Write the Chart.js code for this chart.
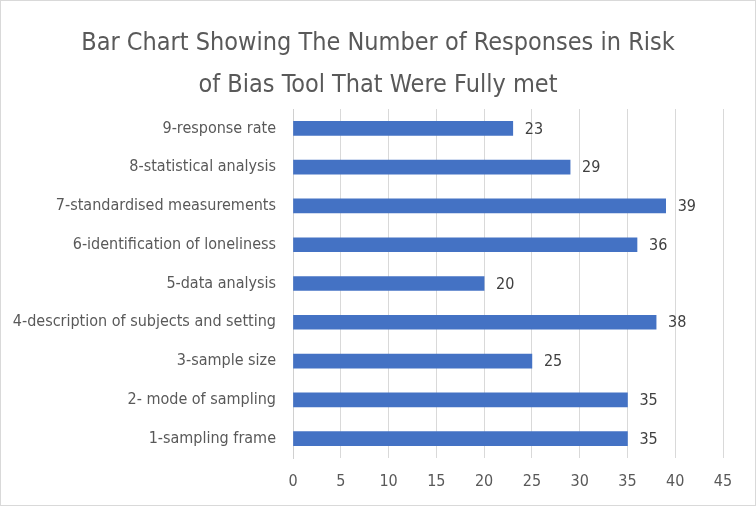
<!DOCTYPE html>
<html>
<head>
<meta charset="utf-8">
<script src="https://cdn.jsdelivr.net/npm/chart.js@4"></script>
<style>
  html, body { margin: 0; padding: 0; background: #fff; }
  #wrap { width: 754px; height: 504px; border: 1px solid #d9d9d9; }
</style>
</head>
<body>
<div id="wrap"><canvas id="chart" width="754" height="504"></canvas></div>
<script>
// data (top to bottom as shown)
const categories = [
  "9-response rate",
  "8-statistical analysis",
  "7-standardised measurements",
  "6-identification of loneliness",
  "5-data analysis",
  "4-description of subjects and setting",
  "3-sample size",
  "2- mode of sampling",
  "1-sampling frame"
];
const values = [23, 29, 39, 36, 20, 38, 25, 35, 35];
const xTicks = [0, 5, 10, 15, 20, 25, 30, 35, 40, 45];
const titleLines = ["Bar Chart Showing The Number of Responses in Risk", "of Bias Tool That Were Fully met"];

const FONT = "'Liberation Sans Narrow', 'Arial Narrow', 'DejaVu Sans Condensed', sans-serif";

// title centred on the whole canvas (built-in title centres on padded box)
const centredTitle = {
  id: "centredTitle",
  afterDraw: (chart) => {
    const { ctx, width } = chart;
    ctx.save();
    ctx.font = "25px " + FONT;
    ctx.fillStyle = "#595959";
    ctx.textAlign = "center";
    ctx.textBaseline = "middle";
    titleLines.forEach((line, i) => {
      ctx.fillText(line, width / 2, 42 + i * 42);
    });
    ctx.restore();
  }
};

// value labels at the bar ends
const valueLabels = {
  id: "valueLabels",
  afterDatasetsDraw: (chart) => {
    const { ctx } = chart;
    const meta = chart.getDatasetMeta(0);
    ctx.save();
    ctx.font = "16px " + FONT;
    ctx.fillStyle = "#404040";
    ctx.textAlign = "left";
    ctx.textBaseline = "middle";
    meta.data.forEach((bar, i) => {
      ctx.fillText(String(values[i]), bar.x + 12, bar.y + 1);
    });
    ctx.restore();
  }
};

new Chart(document.getElementById("chart"), {
  type: "bar",
  data: {
    labels: categories,
    datasets: [{
      data: values,
      backgroundColor: "#4472c4",
      barThickness: 14
    }]
  },
  plugins: [valueLabels, centredTitle],
  options: {
    indexAxis: "y",
    responsive: false,
    animation: false,
    layout: { padding: { top: 108, right: 32, left: 0, bottom: 0 } },
    plugins: {
      legend: { display: false },
      tooltip: { enabled: false },
      title: { display: false }
    },
    scales: {
      x: {
        min: 0,
        max: 45,
        afterBuildTicks: (axis) => { axis.ticks = xTicks.map((v) => ({ value: v })); },
        afterFit: (axis) => { axis.height = 47; },
        grid: { color: "#d9d9d9", drawTicks: false },
        border: { display: false },
        ticks: { color: "#595959", font: { family: FONT, size: 16 }, padding: 14 }
      },
      y: {
        afterFit: (axis) => { axis.width = 292; },
        grid: { display: false, drawTicks: false },
        border: { display: true, color: "#d0d0d0" },
        ticks: { color: "#595959", font: { family: FONT, size: 16 }, padding: 17 }
      }
    }
  }
});
</script>
</body>
</html>
